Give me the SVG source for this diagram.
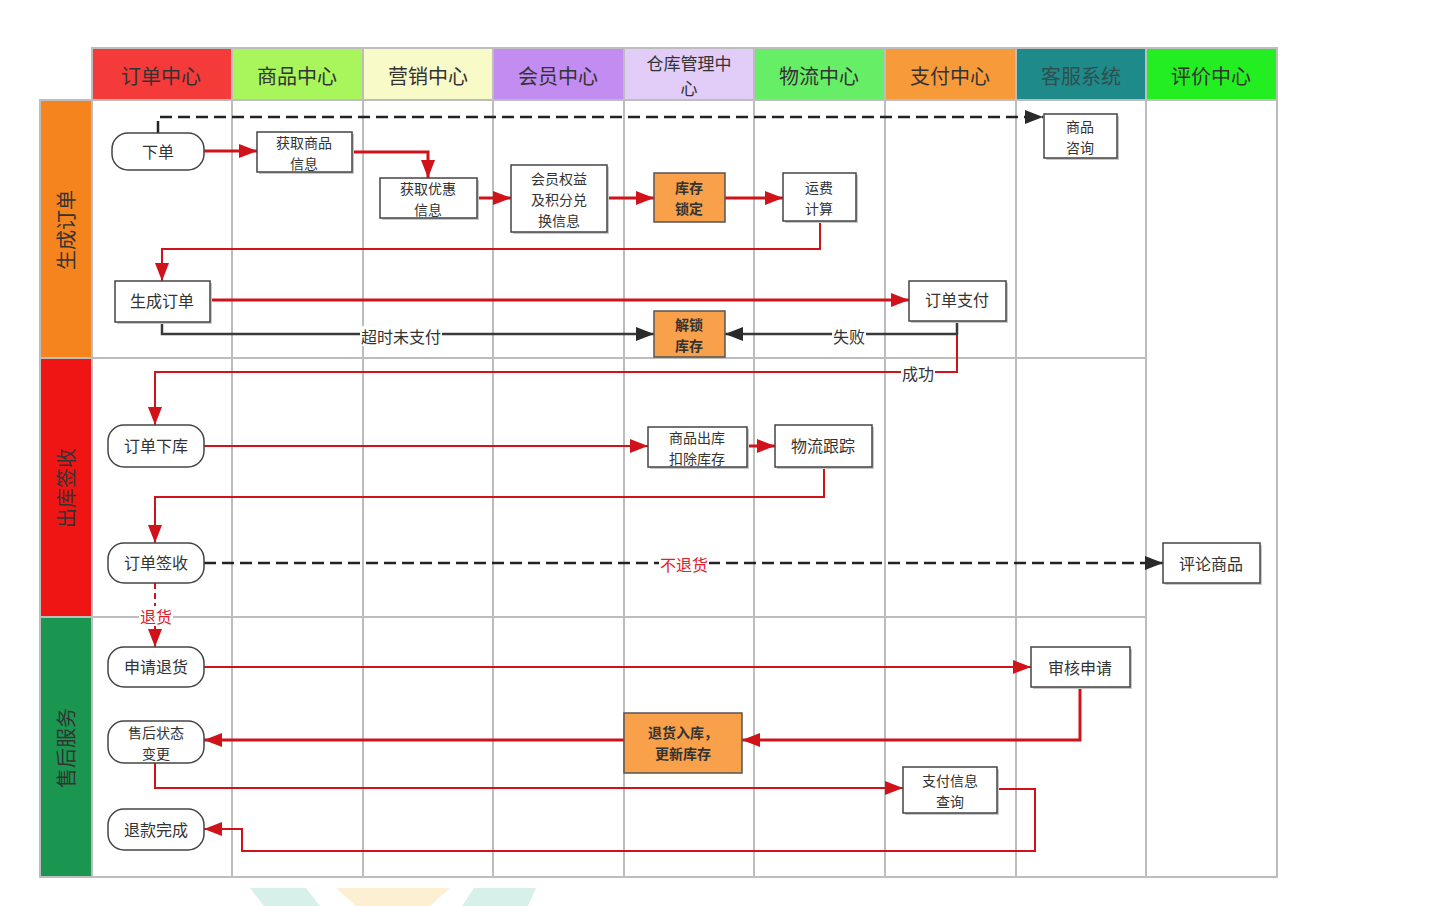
<svg xmlns="http://www.w3.org/2000/svg" width="1456" height="906" viewBox="0 0 1456 906">
<style>
text{font-family:"Noto Sans CJK SC","Noto Sans",sans-serif;fill:#333;text-anchor:middle;dominant-baseline:central}
.hd{font-size:20px}
.hd2{font-size:17px}
.lane{font-size:20px;fill:#333}
.nt{font-size:16px}
.nm{font-size:14px}
.bold{font-weight:bold}
.grid{stroke:#bdbdbd;stroke-width:2;fill:none}
.box{fill:#fff;stroke:#444;stroke-width:1.5}
.obox{fill:#f8a04a;stroke:#555;stroke-width:1.5}
.sh{fill:#c8c8c8}
.rt{stroke:#d0121b;stroke-width:3;fill:none;marker-end:url(#ar)}
.rn{stroke:#d0121b;stroke-width:2;fill:none;marker-end:url(#ar)}
.gk{stroke:#3a3a3a;stroke-width:2.5;fill:none;marker-end:url(#ak)}
.dk{stroke:#222;stroke-width:2.5;stroke-dasharray:12 6;fill:none;marker-end:url(#ak)}
.rd{stroke:#d0121b;stroke-width:2;stroke-dasharray:6 4;fill:none;marker-end:url(#ar)}
.lbg{fill:#fff}
.red{fill:#e0202a}
</style>
<defs>
<marker id="ar" markerUnits="userSpaceOnUse" markerWidth="18" markerHeight="14" refX="18" refY="7" orient="auto"><path d="M0,0 L18,7 L0,14 z" fill="#d0121b"/></marker>
<marker id="ak" markerUnits="userSpaceOnUse" markerWidth="18" markerHeight="14" refX="18" refY="7" orient="auto"><path d="M0,0 L18,7 L0,14 z" fill="#2a2a2a"/></marker>
</defs>
<rect width="1456" height="906" fill="#fff"/>
<polygon points="250,888 306,888 320,906 264,906" fill="#d8f0ea"/>
<polygon points="336,888 450,888 430,906 356,906" fill="#fcefd2"/>
<polygon points="474,888 536,888 528,906 462,906" fill="#d8f0ea"/>
<g id="frame">
<rect x="92" y="48" width="140" height="52" fill="#f53a3a"/>
<rect x="232" y="48" width="131" height="52" fill="#a8f55c"/>
<rect x="363" y="48" width="130" height="52" fill="#f8fac8"/>
<rect x="493" y="48" width="131" height="52" fill="#c28cf0"/>
<rect x="624" y="48" width="130" height="52" fill="#e2ccf8"/>
<rect x="754" y="48" width="131" height="52" fill="#66ee66"/>
<rect x="885" y="48" width="131" height="52" fill="#f79a3a"/>
<rect x="1016" y="48" width="130" height="52" fill="#1f8a8a"/>
<rect x="1146" y="48" width="131" height="52" fill="#22ee22"/>
<rect x="40" y="100" width="52" height="258" fill="#f5841f"/>
<rect x="40" y="358" width="52" height="259" fill="#f01515"/>
<rect x="40" y="617" width="52" height="260" fill="#1a9650"/>
<path class="grid" d="M92,48 H1277 V877 H40 V100 H92 Z M92,48 V877 M232,48 V877 M363,48 V877 M493,48 V877 M624,48 V877 M754,48 V877 M885,48 V877 M1016,48 V877 M1146,48 V877 M40,100 H1277 M40,358 H1146 M40,617 H1146"/>
<text class="hd" x="161" y="75">订单中心</text>
<text class="hd" x="297" y="75">商品中心</text>
<text class="hd" x="428" y="75">营销中心</text>
<text class="hd" x="558" y="75">会员中心</text>
<text class="hd2"><tspan x="689" y="62">仓库管理中</tspan><tspan x="689" y="87">心</tspan></text>
<text class="hd" x="819" y="75">物流中心</text>
<text class="hd" x="950" y="75">支付中心</text>
<text class="hd" x="1081" y="75" style="fill:#2f4f4f">客服系统</text>
<text class="hd" x="1211" y="75">评价中心</text>
<text class="lane" transform="translate(65,230) rotate(-90)">生成订单</text>
<text class="lane" transform="translate(65,488) rotate(-90)">出库签收</text>
<text class="lane" transform="translate(65,748) rotate(-90)">售后服务</text>
</g>
<g id="connectors">
<path class="dk" d="M158,133 V117 H1043"/>
<path class="rt" d="M204,151 H257"/>
<path class="rt" d="M352,152 H428 V178"/>
<path class="rt" d="M477,198 H511"/>
<path class="rt" d="M607,198 H654"/>
<path class="rt" d="M725,198 H783"/>
<path class="rn" d="M820,221 V249 H162 V281"/>
<path class="rt" d="M210,300 H909"/>
<path class="rn" d="M957,334 V372 H155 V425"/>
<path class="gk" d="M162,322 V334 H654"/>
<path class="gk" d="M957,321 V334 H725"/>
<path class="rn" d="M204,446 H648"/>
<path class="rt" d="M747,446 H775"/>
<path class="rn" d="M824,467 V497 H155 V543"/>
<path class="dk" d="M204,563 H1163"/>
<path class="rd" d="M155,583 V647"/>
<path class="rn" d="M204,667 H1031"/>
<path class="rt" d="M1080,687 V740 H742"/>
<path class="rt" d="M624,740 H204"/>
<path class="rn" d="M155,763 V788 H903"/>
<path class="rn" d="M997,789 H1035 V851 H242 V829 H204"/>
<rect class="lbg" x="360" y="326" width="82" height="20"/>
<text class="nt" x="401" y="336">超时未支付</text>
<rect class="lbg" x="832" y="326" width="34" height="20"/>
<text class="nt" x="849" y="336">失败</text>
<rect class="lbg" x="901" y="363" width="34" height="20"/>
<text class="nt" x="918" y="373">成功</text>
<rect class="lbg" x="659" y="554" width="50" height="20"/>
<text class="nt red" x="684" y="564">不退货</text>
<rect class="lbg" x="139" y="606" width="34" height="20"/>
<text class="nt red" x="156" y="616">退货</text>
</g>
<g id="n-xiadan"><rect class="box" x="112" y="133" width="92" height="37" rx="16"/><text class="nt" x="158" y="151">下单</text></g>
<g id="n-huoqushangpin"><rect class="sh" x="259" y="134" width="95" height="40"/><rect class="box" x="257" y="132" width="95" height="40"/><text class="nm"><tspan x="304" y="141.5">获取商品</tspan><tspan x="304" y="162.5">信息</tspan></text></g>
<g id="n-youhui"><rect class="sh" x="382" y="180" width="97" height="40"/><rect class="box" x="380" y="178" width="97" height="40"/><text class="nm"><tspan x="428" y="187.5">获取优惠</tspan><tspan x="428" y="208.5">信息</tspan></text></g>
<g id="n-huiyuan"><rect class="sh" x="513" y="167" width="96" height="67"/><rect class="box" x="511" y="165" width="96" height="67"/><text class="nm"><tspan x="559" y="177.5">会员权益</tspan><tspan x="559" y="198.5">及积分兑</tspan><tspan x="559" y="219.5">换信息</tspan></text></g>
<g id="n-kucunsuoding"><rect class="obox" x="654" y="173" width="71" height="49"/><text class="nm bold"><tspan x="689" y="187">库存</tspan><tspan x="689" y="208">锁定</tspan></text></g>
<g id="n-yunfei"><rect class="sh" x="785" y="175" width="73" height="48"/><rect class="box" x="783" y="173" width="73" height="48"/><text class="nm"><tspan x="819" y="187">运费</tspan><tspan x="819" y="208">计算</tspan></text></g>
<g id="n-zixun"><rect class="sh" x="1046" y="116" width="73" height="44"/><rect class="box" x="1044" y="114" width="73" height="44"/><text class="nm"><tspan x="1080" y="125.5">商品</tspan><tspan x="1080" y="146.5">咨询</tspan></text></g>
<g id="n-shengchengdingdan"><rect class="sh" x="117" y="283" width="95" height="41"/><rect class="box" x="115" y="281" width="95" height="41"/><text class="nt" x="162" y="300">生成订单</text></g>
<g id="n-dingdanzhifu"><rect class="sh" x="911" y="283" width="97" height="40"/><rect class="box" x="909" y="281" width="97" height="40"/><text class="nt" x="957" y="299">订单支付</text></g>
<g id="n-jiesuo"><rect class="obox" x="654" y="311" width="71" height="46"/><text class="nm bold"><tspan x="689" y="323.5">解锁</tspan><tspan x="689" y="344.5">库存</tspan></text></g>
<g id="n-xiaku"><rect class="box" x="108" y="425" width="96" height="42" rx="16"/><text class="nt" x="156" y="445">订单下库</text></g>
<g id="n-chuku"><rect class="sh" x="650" y="429" width="99" height="40"/><rect class="box" x="648" y="427" width="99" height="40"/><text class="nm"><tspan x="697" y="436.5">商品出库</tspan><tspan x="697" y="457.5">扣除库存</tspan></text></g>
<g id="n-wuliu"><rect class="sh" x="777" y="427" width="97" height="42"/><rect class="box" x="775" y="425" width="97" height="42"/><text class="nt" x="823" y="445">物流跟踪</text></g>
<g id="n-qianshou"><rect class="box" x="108" y="543" width="96" height="40" rx="16"/><text class="nt" x="156" y="562">订单签收</text></g>
<g id="n-pinglun"><rect class="sh" x="1165" y="545" width="97" height="40"/><rect class="box" x="1163" y="543" width="97" height="40"/><text class="nt" x="1211" y="563">评论商品</text></g>
<g id="n-shenqing"><rect class="box" x="108" y="647" width="96" height="40" rx="16"/><text class="nt" x="156" y="666">申请退货</text></g>
<g id="n-shenhe"><rect class="sh" x="1033" y="649" width="99" height="40"/><rect class="box" x="1031" y="647" width="99" height="40"/><text class="nt" x="1080" y="667">审核申请</text></g>
<g id="n-zhuangtai"><rect class="box" x="108" y="721" width="96" height="42" rx="16"/><text class="nm"><tspan x="156" y="731.5">售后状态</tspan><tspan x="156" y="752.5">变更</tspan></text></g>
<g id="n-tuihuoruku"><rect class="obox" x="624" y="713" width="118" height="60"/><text class="nm bold"><tspan x="683" y="732">退货入库，</tspan><tspan x="683" y="753">更新库存</tspan></text></g>
<g id="n-zhifuxinxi"><rect class="sh" x="905" y="769" width="94" height="46"/><rect class="box" x="903" y="767" width="94" height="46"/><text class="nm"><tspan x="950" y="779.5">支付信息</tspan><tspan x="950" y="800.5">查询</tspan></text></g>
<g id="n-tuikuan"><rect class="box" x="108" y="809" width="96" height="41" rx="16"/><text class="nt" x="156" y="829">退款完成</text></g>
</svg>
